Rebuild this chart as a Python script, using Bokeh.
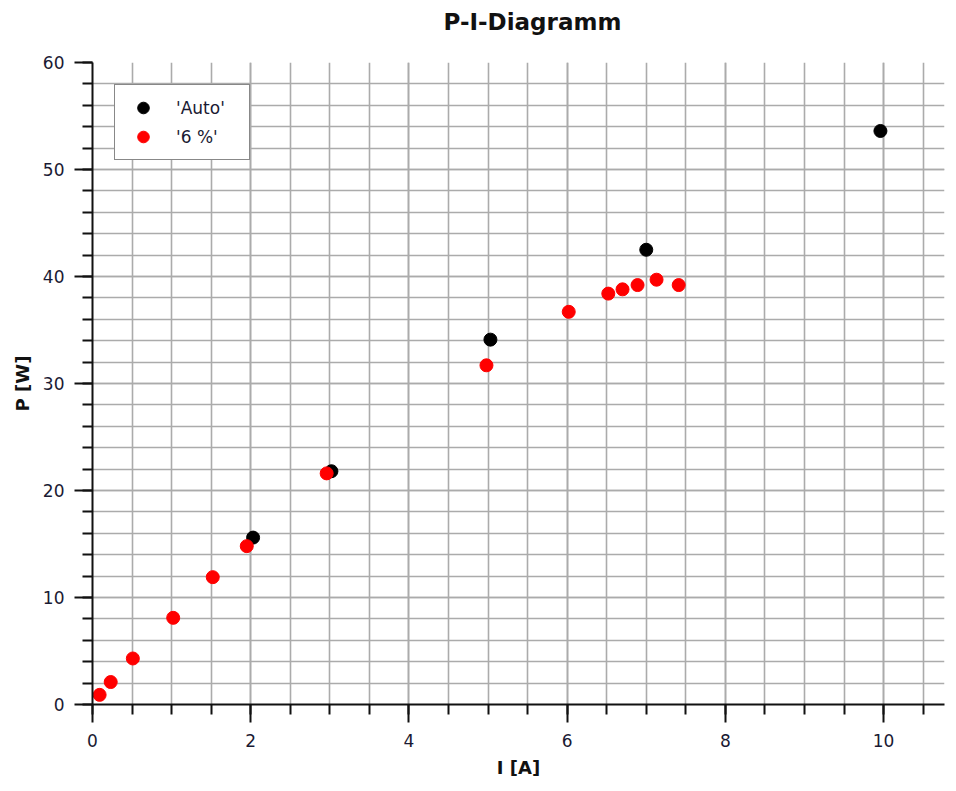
from bokeh.plotting import figure
from bokeh.models import SingleIntervalTicker, Range1d, Legend, LegendItem, Title
from bokeh.embed import file_html
from bokeh.resources import INLINE

# Data
auto_I = [2.03, 3.02, 5.03, 7.00, 9.96]
auto_P = [15.6, 21.8, 34.1, 42.5, 53.6]
pct6_I = [0.09, 0.23, 0.51, 1.02, 1.52, 1.95, 2.96, 4.98, 6.02, 6.52, 6.70, 6.89, 7.13, 7.41]
pct6_P = [0.9, 2.1, 4.3, 8.1, 11.9, 14.8, 21.6, 31.7, 36.7, 38.4, 38.8, 39.2, 39.7, 39.2]

title_text = "P-I-Diagramm"
x_label = "I [A]"
y_label = "P [W]"
series_names = ["'Auto'", "'6 %'"]

FONT = "DejaVu Sans"

p = figure(width=948, height=783, output_backend="svg", toolbar_location=None,
           x_range=Range1d(0, 10.77), y_range=Range1d(0, 60),
           min_border_left=92, min_border_right=4, min_border_top=62, min_border_bottom=79)
p.outline_line_color = None
p.background_fill_color = "white"
p.title = None

main_title = Title(text=title_text, align="left", offset=351, text_font=FONT, text_font_size="23px",
                   text_font_style="bold", text_color="#111111", standoff=12)
spacer = Title(text=" ", text_font=FONT, text_font_size="10px", standoff=9)
p.above = [spacer, main_title]

p.xaxis.ticker = SingleIntervalTicker(interval=2, num_minor_ticks=4)
p.yaxis.ticker = SingleIntervalTicker(interval=10, num_minor_ticks=5)

for ax in (p.xaxis[0], p.yaxis[0]):
    ax.axis_line_color = "#111111"
    ax.axis_line_width = 2
    ax.major_tick_line_color = "#111111"
    ax.major_tick_line_width = 2
    ax.minor_tick_line_color = "#111111"
    ax.minor_tick_line_width = 2
    ax.major_tick_in = 0
    ax.minor_tick_in = 0
    ax.major_tick_out = 18
    ax.minor_tick_out = 10
    ax.major_label_text_font = FONT
    ax.major_label_text_font_size = "17px"
    ax.major_label_text_color = "#1a1a33"
    ax.axis_label_text_font = FONT
    ax.axis_label_text_font_size = "18px"
    ax.axis_label_text_font_style = "bold"
    ax.axis_label_text_color = "#111111"

p.xaxis.axis_label = x_label
p.yaxis.axis_label = y_label
p.xaxis.major_label_standoff = 11
p.yaxis.major_label_standoff = 10
p.xaxis.axis_label_standoff = 7
p.yaxis.axis_label_standoff = 7

for g in (p.xgrid[0], p.ygrid[0]):
    g.grid_line_color = "#ababab"
    g.grid_line_width = 1.6
    g.minor_grid_line_color = "#ababab"
    g.minor_grid_line_width = 1.6

r_auto = p.scatter(auto_I, auto_P, size=13, color="black", line_color="black")
r_pct = p.scatter(pct6_I, pct6_P, size=13, color="red", line_color="red")

legend = Legend(items=[LegendItem(label=series_names[0], renderers=[r_auto]),
                       LegendItem(label=series_names[1], renderers=[r_pct])],
                location="top_left")
legend.margin = 22
legend.padding = 8
legend.spacing = 0
legend.glyph_width = 40
legend.glyph_height = 29
legend.label_standoff = 13
legend.label_width = 65
legend.label_height = 20
legend.label_text_font = FONT
legend.label_text_font_size = "17px"
legend.label_text_color = "#1a1a33"
legend.border_line_color = "#111111"
legend.border_line_width = 1.6
legend.background_fill_color = "white"
legend.background_fill_alpha = 1.0
p.add_layout(legend)

open("out.html", "w").write(file_html(p, INLINE))
